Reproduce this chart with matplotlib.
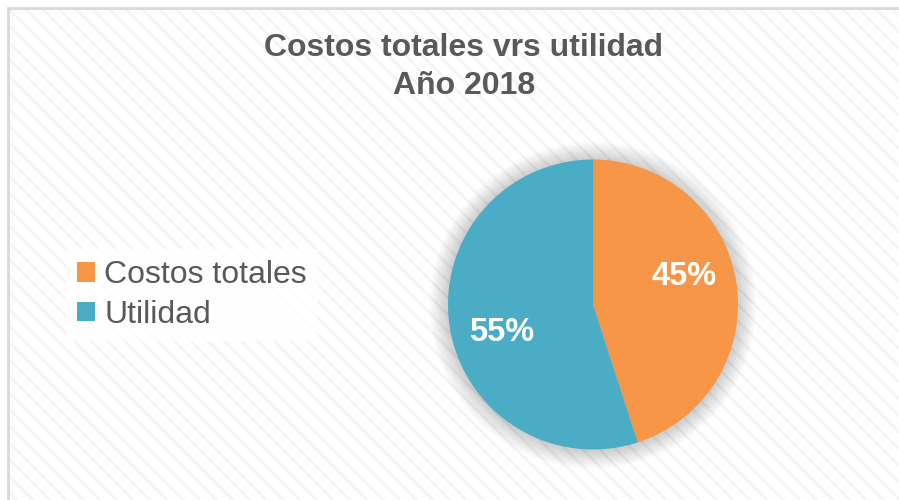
import matplotlib
matplotlib.use("Agg")
from matplotlib import pyplot as plt
from matplotlib.patches import Rectangle, Circle, Patch
import numpy as np

categorias = ["Costos totales", "Utilidad"]
valores = [45, 55]
colores = ["#F79646", "#4BACC6"]
titulo = "Costos totales vrs utilidad\nAño 2018"

gris_texto = "#595959"
plt.rcParams["font.family"] = ["Liberation Sans", "DejaVu Sans"]
plt.rcParams["hatch.linewidth"] = 1.8

W, H = 899, 500
fig = plt.figure(figsize=(W / 100, H / 100), dpi=100)
fig.patch.set_facecolor("white")

# fondo rayado del area del grafico
fondo = Rectangle((8 / W, -0.05), 1.1, 1 - 8 / H + 0.05, transform=fig.transFigure,
                  facecolor="white", edgecolor="#f4f4f4", hatch="\\\\", linewidth=0, zorder=-3)
fig.patches.append(fondo)
borde = Rectangle((8 / W, -0.05), 1.1, 1 - 8 / H + 0.05, transform=fig.transFigure,
                  facecolor="none", edgecolor="#d9d9d9", linewidth=2, zorder=-2)
fig.patches.append(borde)

# titulo
fig.text(464 / W, 1 - 67 / H, titulo, ha="center", va="center", fontsize=23,
         fontweight="bold", color=gris_texto, linespacing=1.32)

# ejes del pastel
cx, cy, r = 593, 304.5, 145
lim = 1.25
ax = fig.add_axes([(cx - r * lim) / W, (H - cy - r * lim) / H, 2 * r * lim / W, 2 * r * lim / H])
ax.patch.set_visible(False)

# sombra suave alrededor del pastel
for k in range(16, 0, -1):
    ax.add_patch(Circle((0, -0.005), 1 + k * 0.008, color="black", alpha=0.012, lw=0, zorder=1))

wedges, textos, autotextos = ax.pie(valores, colors=colores, startangle=90, counterclock=False,
                                   radius=1, autopct="%1.0f%%", pctdistance=0.66,
                                   wedgeprops=dict(linewidth=0, zorder=2),
                                   textprops=dict(color="white", fontsize=23.5, fontweight="bold"))
ax.set_xlim(-lim, lim)
ax.set_ylim(-lim, lim)
ax.set_aspect("equal")
ax.axis("off")

# mover un poco las etiquetas de porcentaje
giro = np.deg2rad(8)
for t in autotextos:
    x, y = t.get_position()
    t.set_position((x * np.cos(giro) - y * np.sin(giro), x * np.sin(giro) + y * np.cos(giro)))
    t.set_zorder(3)

# leyenda
manijas = [Patch(facecolor=c, edgecolor="none") for c in colores]
leg = fig.legend(manijas, categorias, loc="center left", bbox_to_anchor=(66 / W, 1 - 295 / H),
                 fontsize=23, labelcolor=gris_texto, frameon=True, fancybox=False,
                 handlelength=0.55, handleheight=0.55, handletextpad=0.3, labelspacing=0.3,
                 borderpad=0.35, borderaxespad=0)
leg.get_frame().set_facecolor("white")
leg.get_frame().set_edgecolor("none")
leg.get_frame().set_alpha(0.85)

fig.savefig("out.png", dpi=100)
